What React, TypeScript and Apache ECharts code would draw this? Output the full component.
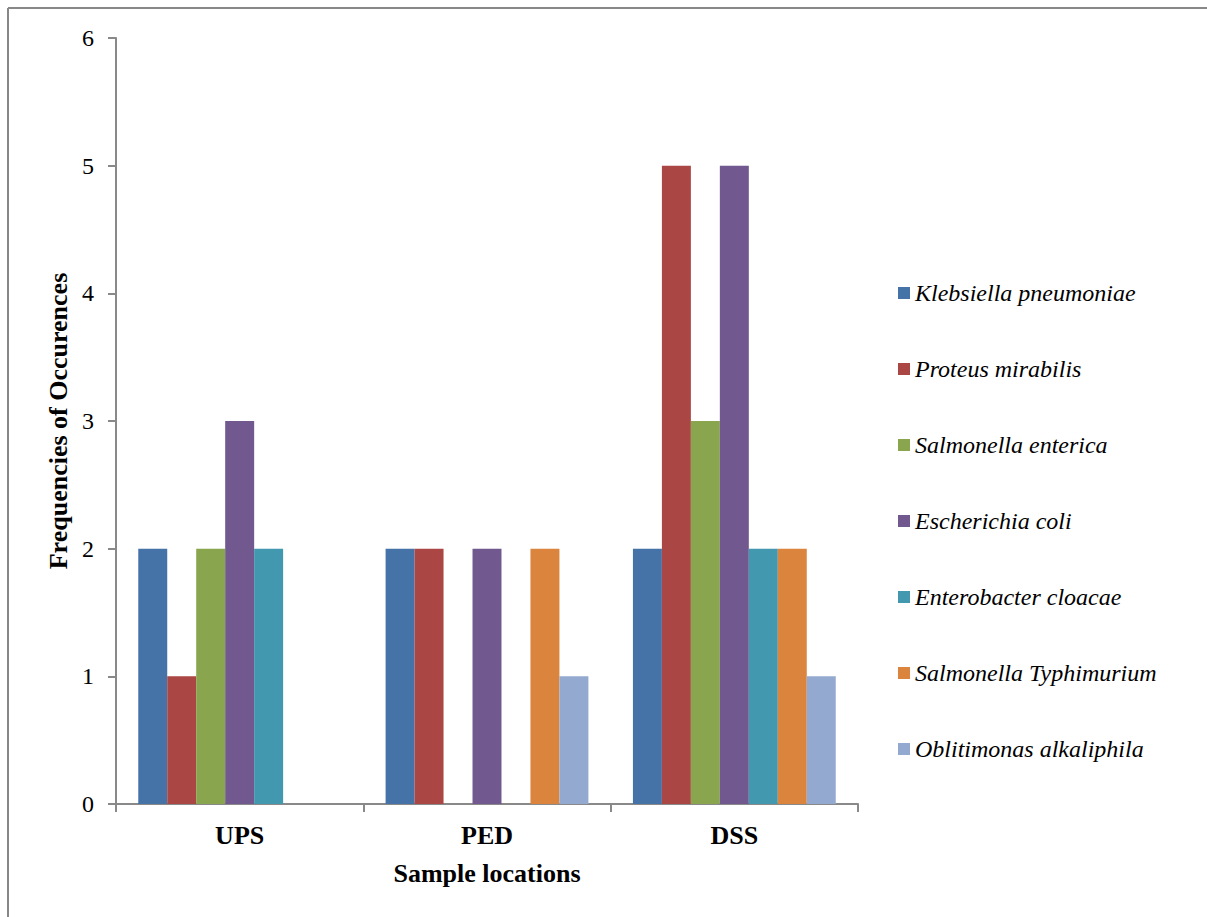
import React, { useEffect, useRef } from "react";
import * as echarts from "echarts";

const categories = ["UPS", "PED", "DSS"];
const seriesNames = [
  "Klebsiella pneumoniae",
  "Proteus mirabilis",
  "Salmonella enterica",
  "Escherichia coli",
  "Enterobacter cloacae",
  "Salmonella Typhimurium",
  "Oblitimonas alkaliphila",
];
const klebsiella = [2, 2, 2];
const proteus = [1, 2, 5];
const salmonellaEnterica = [2, 0, 3];
const ecoli = [3, 2, 5];
const enterobacter = [2, 0, 2];
const typhimurium = [0, 2, 2];
const oblitimonas = [0, 1, 1];
const seriesValues = [klebsiella, proteus, salmonellaEnterica, ecoli, enterobacter, typhimurium, oblitimonas];
const colors = ["#4572A7", "#AA4643", "#89A54E", "#71588F", "#4198AF", "#DB843D", "#93A9CF"];

const FONT = "Liberation Serif, Times New Roman, serif";
const AXIS_COLOR = "#898989";

export default function App() {
  const ref = useRef<HTMLDivElement>(null);
  useEffect(() => {
    if (!ref.current) return;
    const chart = echarts.init(ref.current, null, { renderer: "svg" });
    chart.setOption({
      animation: false,
      backgroundColor: "#ffffff",
      color: colors,
      textStyle: { fontFamily: FONT },
      graphic: [
        { type: "line", shape: { x1: 8, y1: 8, x2: 1207, y2: 8 }, style: { stroke: "#888888", lineWidth: 2 } },
        { type: "line", shape: { x1: 8, y1: 8, x2: 8, y2: 917 }, style: { stroke: "#888888", lineWidth: 2 } },
      ],
      grid: { left: 116, right: 349, top: 38, bottom: 113, containLabel: false },
      legend: {
        orient: "vertical",
        left: 893,
        top: 276,
        itemWidth: 12,
        itemHeight: 12,
        itemGap: 52,
        icon: "rect",
        data: seriesNames,
        textStyle: { fontFamily: FONT, fontSize: 24, fontStyle: "italic", color: "#000", lineHeight: 24 },
      },
      xAxis: {
        type: "category",
        data: categories,
        boundaryGap: true,
        name: "Sample locations",
        nameLocation: "middle",
        nameGap: 56,
        nameTextStyle: { fontFamily: FONT, fontSize: 26, fontWeight: "bold", color: "#000" },
        axisLine: { lineStyle: { color: AXIS_COLOR, width: 2 } },
        axisTick: { show: true, alignWithLabel: false, length: 8, lineStyle: { color: AXIS_COLOR, width: 2 } },
        axisLabel: { fontFamily: FONT, fontSize: 26, fontWeight: "bold", color: "#000", margin: 18 },
        splitLine: { show: false },
      },
      yAxis: {
        type: "value",
        min: 0,
        max: 6,
        interval: 1,
        name: "Frequencies of Occurences",
        nameLocation: "middle",
        nameGap: 44,
        nameRotate: 90,
        nameTextStyle: { fontFamily: FONT, fontSize: 26, fontWeight: "bold", color: "#000" },
        axisLine: { show: true, lineStyle: { color: AXIS_COLOR, width: 2 } },
        axisTick: { show: true, length: 8, lineStyle: { color: AXIS_COLOR, width: 2 } },
        axisLabel: { fontFamily: FONT, fontSize: 24, color: "#000", margin: 22 },
        splitLine: { show: false },
      },
      series: seriesNames.map((name, i) => ({
        name,
        type: "bar",
        data: seriesValues[i],
        barGap: "0%",
        barCategoryGap: "18%",
        itemStyle: { color: colors[i] },
      })),
    });
    return () => chart.dispose();
  }, []);
  return <div ref={ref} style={{ width: 1207, height: 917, position: "absolute", left: 0, top: 0 }} />;
}
